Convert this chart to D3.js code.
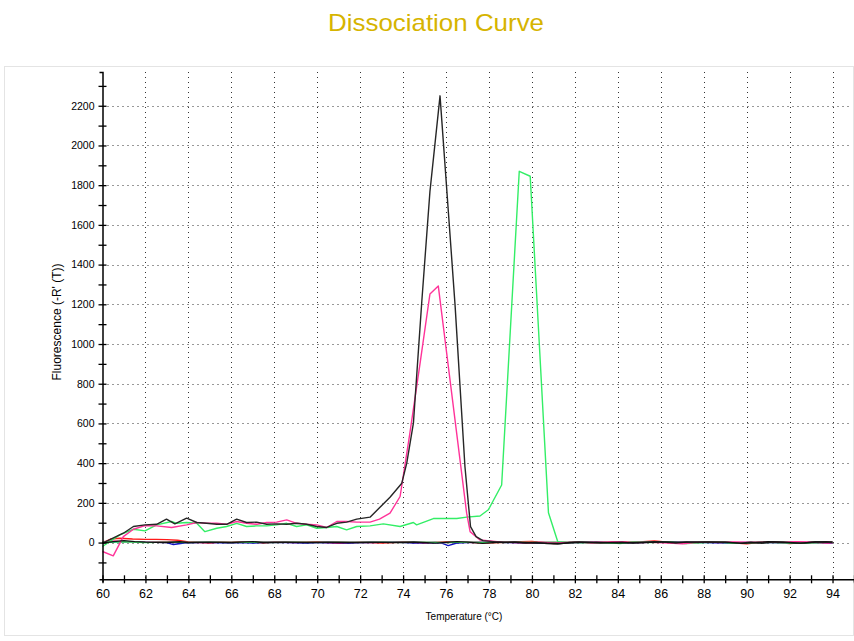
<!DOCTYPE html>
<html>
<head>
<meta charset="utf-8">
<script src="https://cdn.jsdelivr.net/npm/d3@7"></script>
<style>
  body { margin: 0; background: #fff; }
  svg { display: block; font-family: "Liberation Sans", Arial, sans-serif; }
</style>
</head>
<body>
<svg id="chart" width="854" height="641"></svg>
<script>
// axis ticks
const xMajorTicks = [60, 62, 64, 66, 68, 70, 72, 74, 76, 78, 80, 82, 84, 86, 88, 90, 92, 94];
const yMajorTicks = [0, 200, 400, 600, 800, 1000, 1200, 1400, 1600, 1800, 2000, 2200];

// sample curves, [temperature, -R'(T)]
const blackSample = [
    [60.0, -3], [60.97, 47], [61.44, 81], [61.98, 89], [62.52, 92], [62.98, 118], [63.37, 94],
    [63.92, 123], [64.39, 101], [64.85, 97], [65.32, 92], [65.78, 92], [66.25, 118], [66.71, 101],
    [67.18, 103], [67.65, 92], [68.11, 94], [68.58, 92], [69.04, 97], [69.51, 92], [69.98, 81],
    [70.44, 76], [70.91, 97], [71.37, 103], [71.84, 118], [72.46, 128], [73.39, 228], [73.94, 299],
    [74.17, 400], [74.48, 601], [74.87, 1213], [75.25, 1768], [75.72, 2250], [76.42, 1196],
    [76.88, 383], [77.14, 80], [77.4, 30], [77.72, 10], [78.2, 5], [78.7, 0], [79.2, 3], [79.7, -2],
    [80.2, 0], [80.7, -5], [81.2, -8], [81.7, 0], [82.2, 3], [82.7, 0], [83.2, -3], [83.7, 0],
    [84.2, 2], [84.7, -3], [85.2, 0], [85.7, 4], [86.2, 2], [86.7, -2], [87.2, 3], [87.7, 2],
    [88.2, 3], [88.7, 2], [89.2, 0], [89.7, -3], [90.2, 2], [90.7, -4], [91.2, 3], [91.7, 2],
    [92.2, -3], [92.7, -2], [93.2, 3], [93.7, 4], [94.0, 2]
];
const pinkSample = [
    [60.0, -45], [60.5, -67], [60.97, 30], [61.44, 67], [61.98, 85], [62.52, 84], [63.22, 76],
    [63.92, 89], [64.39, 101], [64.85, 97], [65.32, 97], [65.78, 92], [66.25, 106], [66.71, 97],
    [67.18, 92], [67.65, 101], [68.11, 103], [68.58, 114], [69.04, 97], [69.51, 92], [69.98, 89],
    [70.44, 76], [70.91, 106], [71.37, 106], [71.84, 103], [72.46, 103], [72.9, 118], [73.39, 148],
    [73.86, 232], [74.3, 540], [74.8, 910], [75.25, 1252], [75.64, 1292], [76.96, 148],
    [77.12, 55], [77.58, 13], [78.05, 8], [78.6, 2], [79.2, 0], [79.8, -3], [80.4, 2], [81.0, -2],
    [81.6, 0], [82.2, 2], [82.8, -2], [83.4, 0], [84.0, 3], [84.6, 0], [85.2, 2], [85.8, 0],
    [86.4, -2], [87.0, -6], [87.6, 0], [88.2, 2], [88.8, 0], [89.4, 3], [90.0, 0], [90.6, 2],
    [91.2, 3], [91.8, 0], [92.4, 5], [93.0, 0], [93.6, 3], [94.0, 2]
];
const greenSample = [
    [60.0, -20], [60.8, 39], [61.44, 67], [61.98, 59], [62.52, 89], [63.22, 106], [63.45, 97],
    [63.92, 101], [64.39, 97], [64.77, 55], [65.32, 72], [65.78, 81], [66.25, 97], [66.71, 81],
    [67.18, 84], [67.65, 84], [68.11, 89], [68.58, 97], [69.04, 81], [69.51, 89], [69.98, 72],
    [70.44, 76], [70.91, 81], [71.37, 64], [71.84, 81], [72.46, 84], [73.08, 94], [73.86, 81],
    [74.48, 101], [74.63, 89], [75.41, 121], [76.5, 121], [76.96, 128], [77.58, 134], [77.97, 165],
    [78.59, 290], [79.41, 1870], [79.92, 1845], [80.77, 150], [81.2, 5], [81.7, 0], [82.3, 2],
    [82.9, -2], [83.5, 0], [84.1, -5], [84.7, 2], [85.3, 5], [85.9, 2], [86.5, 0], [87.1, -5],
    [87.7, 0], [88.3, 2], [88.9, 0], [89.5, -4], [90.1, 0], [90.7, 2], [91.3, 0], [91.9, -3],
    [92.5, -4], [93.1, 0], [93.7, 2], [94.0, 0]
];

// no-template / background wells
const redBase = [
    [60.0, -3], [60.4, 18], [60.8, 22], [61.4, 18], [62.0, 16], [62.5, 16], [63.0, 15], [63.5, 12],
    [64.0, 3], [64.5, 0], [65.0, -2], [65.5, 2], [66.0, 0], [66.5, 5], [67.0, 3], [67.5, -2],
    [68.0, 2], [69.0, 0], [70.0, 3], [71.0, -4], [72.0, 1], [73.0, -2], [74.0, 2], [75.0, -3],
    [76.0, 5], [77.0, 1], [78.0, -2], [79.0, 3], [80.0, 6], [81.0, -5], [82.0, 2], [83.0, -3],
    [84.0, 4], [85.0, 3], [85.7, 8], [86.5, 0], [87.0, -4], [88.0, 2], [89.0, 1], [90.0, -6],
    [91.0, 5], [92.0, -5], [93.0, 2], [94.0, -3]
];
const blueBase = [
    [60.0, 0], [60.5, 3], [61.0, 5], [62.0, 2], [63.0, 0], [63.3, -10], [63.8, -2], [64.5, 0],
    [65.0, 0], [66.0, -2], [66.5, 0], [67.0, -3], [67.5, 0], [68.5, 0], [69.5, -2], [70.5, 0],
    [71.5, -2], [72.5, 0], [73.5, 2], [74.5, -2], [75.5, 0], [75.8, -3], [76.1, -15], [76.5, -2],
    [77.0, 0], [78.0, 2], [79.0, 0], [80.0, -3], [81.0, -2], [82.0, 0], [83.0, 0], [84.0, -3],
    [85.0, 0], [86.0, 2], [87.0, 0], [88.0, 0], [89.0, -2], [90.0, 0], [91.0, 0], [92.0, -2],
    [93.0, 0], [94.0, -2]
];
const pinkBase = [
    [60.0, 5], [60.5, 8], [61.0, 4], [62.0, 2], [63.0, 4], [64.0, 0], [65.0, 2], [66.0, 0],
    [67.0, 3], [68.0, 0], [69.0, 2], [70.0, 0], [71.0, 3], [72.0, 0], [73.0, 2], [74.0, 0],
    [75.0, 2], [76.0, 0], [77.0, 3], [78.0, 0], [79.0, 2], [80.0, 0], [81.0, 2], [82.0, 0],
    [83.0, 2], [84.0, 5], [85.0, 0], [86.0, 2], [86.8, -4], [87.5, 0], [88.5, 2], [89.5, 0],
    [90.5, 2], [91.5, 0], [92.3, 4], [93.0, 0], [93.8, -3], [94.0, 0]
];
const greenBase = [
    [60.0, 2], [61.0, 4], [62.0, 0], [63.0, 2], [64.0, 0], [65.0, 2], [66.0, 0], [67.0, 2],
    [68.0, 0], [69.0, 2], [70.0, 0], [71.0, 2], [72.0, 0], [73.0, 2], [74.0, 0], [75.0, 2],
    [76.0, 0], [77.0, 2], [78.0, 0], [79.0, 2], [80.0, 0], [81.0, 2], [82.0, 0], [83.0, -2],
    [84.0, -3], [84.8, 4], [85.5, 0], [86.5, 2], [87.2, -5], [88.0, 0], [89.0, 2], [89.6, -4],
    [90.5, 0], [91.5, 2], [92.3, -2], [92.9, -3], [93.5, 0], [94.0, 2]
];
const blackBase = [
    [60.0, -3], [60.5, 5], [61.0, 10], [61.5, 5], [62.0, 2], [63.0, 0], [63.6, 4], [64.0, 0],
    [65.0, 2], [66.0, 0], [67.0, 5], [67.5, 0], [68.5, 2], [69.5, 0], [70.5, 2], [71.5, 0],
    [72.5, 2], [73.5, 0], [74.5, 3], [75.5, -3], [76.5, 5], [77.0, 2], [77.7, -4], [78.5, 2],
    [79.5, 0], [80.5, -3], [81.3, -5], [82.0, 0], [83.0, 2], [84.0, -2], [85.0, 0], [86.0, 3],
    [87.0, 2], [88.0, 2], [89.0, 2], [89.8, -4], [90.5, 0], [91.0, 4], [92.0, 0], [92.5, -3],
    [93.2, 3], [94.0, 2]
];

const series = [
    { data: redBase, color: "#ff1a1a" },
    { data: blueBase, color: "#1010c0" },
    { data: pinkBase, color: "#ff3399" },
    { data: greenBase, color: "#33ee66" },
    { data: greenSample, color: "#33ee66" },
    { data: pinkSample, color: "#ff3399" },
    { data: blackSample, color: "#262626" },
    { data: blackBase, color: "#111111" }
];

const svg = d3.select("#chart");

// outer panel
svg.append("rect")
    .attr("x", 4.5).attr("y", 66.5)
    .attr("width", 849).attr("height", 569)
    .attr("fill", "#fff")
    .attr("stroke", "#e4e4e4");

svg.append("text")
    .attr("x", 436).attr("y", 31)
    .attr("text-anchor", "middle")
    .attr("font-size", 24)
    .attr("fill", "#d6b400")
    .attr("textLength", 216)
    .attr("lengthAdjust", "spacingAndGlyphs")
    .text("Dissociation Curve");

const x = d3.scaleLinear().domain([60, 95]).range([102.5, 854]);
const y = d3.scaleLinear().domain([-185, 2370]).range([579.3, 72]);

// dotted grid
svg.append("g").selectAll("line")
    .data(yMajorTicks)
    .enter().append("line")
    .attr("x1", x(60)).attr("x2", 852)
    .attr("y1", d => Math.round(y(d)) + 0.5).attr("y2", d => Math.round(y(d)) + 0.5)
    .attr("stroke", "#333")
    .attr("stroke-dasharray", "1,4");

svg.append("g").selectAll("line")
    .data(xMajorTicks.slice(1))
    .enter().append("line")
    .attr("x1", d => Math.round(x(d)) + 0.5).attr("x2", d => Math.round(x(d)) + 0.5)
    .attr("y1", y(2370)).attr("y2", y(-185))
    .attr("stroke", "#333")
    .attr("stroke-dasharray", "1,4");

// curves
const line = d3.line()
    .x(d => x(d[0]))
    .y(d => y(d[1]));

svg.append("g").selectAll("path")
    .data(series)
    .enter().append("path")
    .attr("d", d => line(d.data))
    .attr("fill", "none")
    .attr("stroke", d => d.color)
    .attr("stroke-width", 1.4)
    .attr("stroke-linejoin", "round");

// x axis, ticks cross the line
const xMinor = d3.range(60, 96, 1);
const xAxis = svg.append("g")
    .attr("transform", `translate(0,${y(-185)})`)
    .call(d3.axisBottom(x).tickValues(xMinor).tickSizeOuter(0).tickSize(3)
        .tickFormat(d => d % 2 === 0 && d <= 94 ? d : ""));
xAxis.select(".domain").attr("stroke", "#000").attr("stroke-width", 1.5);
xAxis.selectAll(".tick line").attr("y1", -4).attr("y2", 4).attr("stroke-width", 1.3);
xAxis.selectAll(".tick text")
    .attr("y", 10)
    .attr("font-size", 12.5)
    .attr("font-family", "'Liberation Sans', Arial, sans-serif")
    .attr("fill", "#000");

const yMinor = d3.range(-100, 2400, 100);
const yAxis = svg.append("g")
    .attr("transform", `translate(${x(60)},0)`)
    .call(d3.axisLeft(y).tickValues(yMinor).tickSizeOuter(0).tickSize(3)
        .tickFormat(d => d % 200 === 0 && d >= 0 ? d : ""));
yAxis.select(".domain").attr("stroke", "#000").attr("stroke-width", 1.5);
yAxis.selectAll(".tick line").attr("x1", -4).attr("x2", 4).attr("stroke-width", 1.3);
yAxis.selectAll(".tick text")
    .attr("x", -8)
    .attr("font-size", 10.5)
    .attr("font-family", "'Liberation Sans', Arial, sans-serif")
    .attr("fill", "#000");

// axis titles
svg.append("text")
    .attr("x", 464).attr("y", 620)
    .attr("text-anchor", "middle")
    .attr("font-size", 10)
    .text("Temperature (°C)");

svg.append("text")
    .attr("transform", "translate(61,322) rotate(-90)")
    .attr("text-anchor", "middle")
    .attr("font-size", 12)
    .text("Fluorescence (-R' (T))");
</script>
</body>
</html>
